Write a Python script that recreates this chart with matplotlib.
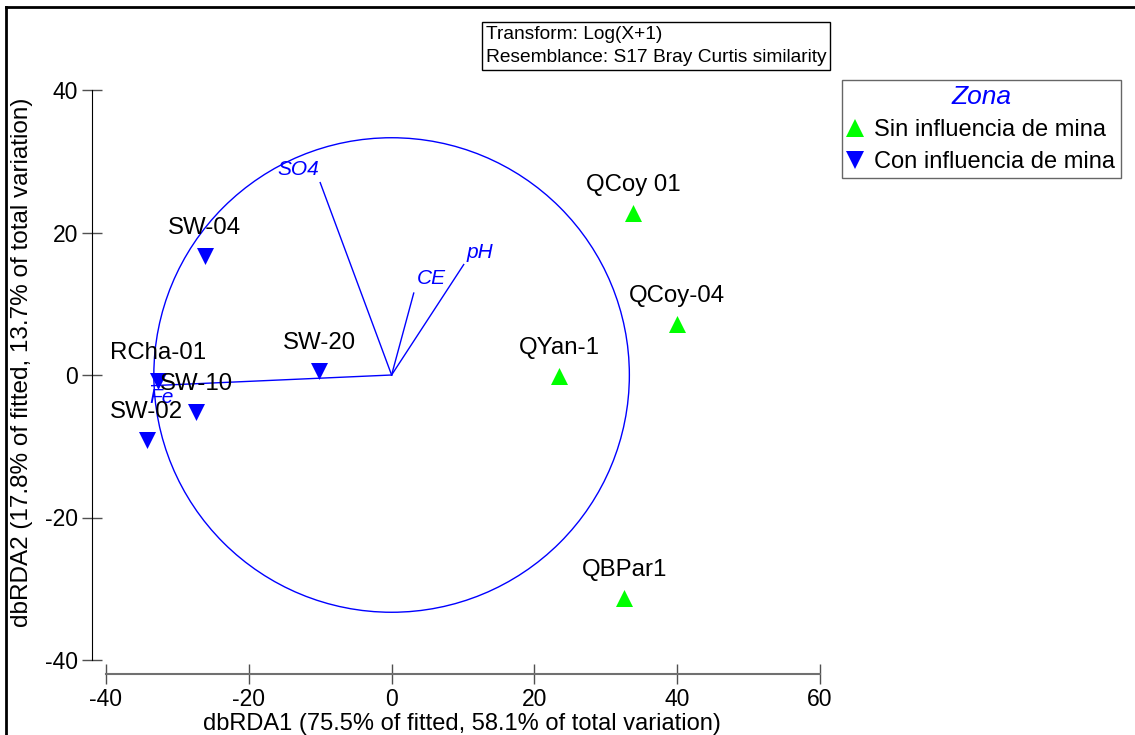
import matplotlib.pyplot as plt
from matplotlib.lines import Line2D
from matplotlib.patches import Circle
import numpy as np

plt.rcParams['font.family'] = ['Liberation Sans', 'DejaVu Sans']

# samples (dbRDA1, dbRDA2)
sin_names = ['QCoy 01', 'QCoy-04', 'QYan-1', 'QBPar1']
sin_x = [33.8, 40.0, 23.5, 32.6]
sin_y = [22.7, 7.2, -0.1, -31.3]

con_names = ['SW-04', 'SW-20', 'RCha-01', 'SW-10', 'SW-02']
con_x = [-26.2, -10.1, -32.7, -27.4, -34.3]
con_y = [16.7, 0.6, -0.8, -5.2, -9.1]

# vector overlay
vec_names = ['SO4', 'CE', 'pH', 'Fe']
vec_x = [-10.0, 3.1, 10.1, -33.6]
vec_y = [27.0, 11.5, 15.5, -1.5]
vec_lab_x = [-13.0, 5.5, 12.4, -32.2]
vec_lab_y = [28.9, 13.5, 17.2, -3.1]
circle_r = 33.3

W, H = 1135, 735
fig = plt.figure(figsize=(W / 100, H / 100), dpi=100)
ax = fig.add_axes([106 / W, 75 / H, 714 / W, 570 / H])
ax.set_xlim(-40, 60)
ax.set_ylim(-40, 40)

# circle + vectors
ax.add_patch(Circle((0, 0), circle_r, fill=False, ec='#0000ff', lw=1.0, clip_on=False))
for n, x, y, lx, ly in zip(vec_names, vec_x, vec_y, vec_lab_x, vec_lab_y):
    ax.plot([0, x], [0, y], color='#0000ff', lw=1.0, clip_on=False)
    ax.text(lx, ly, n, color='#0000ff', style='italic', fontsize=15,
            ha='center', va='center')

ax.scatter(sin_x, sin_y, marker='^', s=150, color='#00ff00', zorder=3, clip_on=False, linewidths=0)
ax.scatter(con_x, con_y, marker='v', s=150, color='#0000ff', zorder=3, clip_on=False, linewidths=0)
for n, x, y in zip(sin_names + con_names, sin_x + con_x, sin_y + con_y):
    ax.annotate(n, (x, y), xytext=(0, 28), textcoords='offset pixels',
                ha='center', va='center', fontsize=17.3, zorder=4)

# axes styling (detached spines)
for s in ['top', 'right']:
    ax.spines[s].set_visible(False)
ax.spines['left'].set_position(('outward', 10))
ax.spines['bottom'].set_position(('outward', 10))
ax.spines['left'].set_color('black')
ax.spines['bottom'].set_color('#707070')
ax.spines['bottom'].set_linewidth(1.5)
ax.set_xticks([-40, -20, 0, 20, 40, 60])
ax.set_yticks([-40, -20, 0, 20, 40])
ax.set_xticklabels(['-40', '-20', '0', '20', '40', '60'])
ax.set_yticklabels(['-40', '-20', '0', '20', '40'])
ax.tick_params(direction='inout', length=14, width=1, color='#505050',
               labelsize=16.5, pad=3)
ax.patch.set_visible(False)

fig.text(462 / W, 1 - 724 / H, 'dbRDA1 (75.5% of fitted, 58.1% of total variation)',
         ha='center', va='center', fontsize=17)
fig.text(22 / W, 1 - 362 / H, 'dbRDA2 (17.8% of fitted, 13.7% of total variation)',
         ha='center', va='center', rotation=90, fontsize=17.5)

# info box
fig.text(486 / W, 1 - 26 / H, 'Transform: Log(X+1)\nResemblance: S17 Bray Curtis similarity',
         ha='left', va='top', fontsize=13.8, linespacing=1.45,
         bbox=dict(boxstyle='square,pad=0.2', fc='white', ec='black', lw=1))

# legend
handles = [Line2D([], [], marker='^', ls='none', color='#00ff00', markersize=13, mew=0),
           Line2D([], [], marker='v', ls='none', color='#0000ff', markersize=13, mew=0)]
leg = fig.legend(handles, ['Sin influencia de mina', 'Con influencia de mina'],
                 title='Zona', loc='upper left', bbox_to_anchor=(842 / W, 1 - 80 / H),
                 fontsize=17, frameon=True, fancybox=False, handlelength=0.7,
                 handletextpad=0.45, borderpad=0.22, labelspacing=0.42, borderaxespad=0)
leg.get_title().set_color('#0000ff')
leg.get_title().set_fontstyle('italic')
leg.get_title().set_fontsize(19)
leg.get_frame().set_edgecolor('#404040')
leg.get_frame().set_linewidth(1)

# outer frame (top and left edges)
fig.add_artist(Line2D([6 / W, 1], [1 - 7 / H, 1 - 7 / H], transform=fig.transFigure, color='black', lw=2))
fig.add_artist(Line2D([6 / W, 6 / W], [0, 1 - 7 / H], transform=fig.transFigure, color='black', lw=2))

fig.savefig('out.png', dpi=100)
